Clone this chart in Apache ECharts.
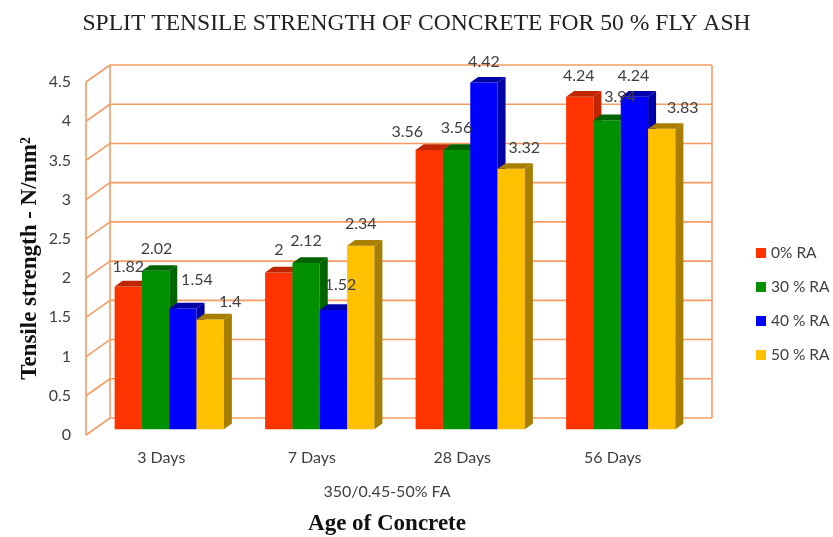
<!DOCTYPE html>
<html>
<head>
<meta charset="utf-8">
<script src="https://cdn.jsdelivr.net/npm/echarts@6/dist/echarts.min.js"></script>
<style>
  html, body { margin: 0; padding: 0; background: #fff; }
  #chart { width: 833px; height: 537px; }
</style>
</head>
<body>
<div id="chart"></div>
<script>
// data
const categories = ['3 Days', '7 Days', '28 Days', '56 Days']
const seriesNames = ['0% RA', '30 % RA', '40 % RA', '50 % RA']
const ra0 = [1.82, 2, 3.56, 4.24]
const ra30 = [2.02, 2.12, 3.56, 3.94]
const ra40 = [1.54, 1.52, 4.42, 4.24]
const ra50 = [1.4, 2.34, 3.32, 3.83]
const yTicks = [0, 0.5, 1, 1.5, 2, 2.5, 3, 3.5, 4, 4.5]

const seriesValues = [ra0, ra30, ra40, ra50]
const frontColors = ['#FF3300', '#009000', '#0000FF', '#FFC000']
const darkColors = ['#C02600', '#006400', '#0000A8', '#A87E00']

// label nudges (px) where Excel moved a label off its bar
const labelShift = [
  [[0, 1], [0, -2], [-22, 3], [-1, 0]],
  [[1, -1], [0, -1], [0, -1], [13, -2]],
  [[14, -8], [7, -4], [0, 0], [-1, 0]],
  [[20, 3], [0, -1], [13, 0], [21, 0]],
]

// 3d look: depth of the whole frame and of one bar
const DX = 24
const DY = 17
const BDX = 8
const BDY = 5.7
const gridLine = '#F59C64'
const textColor = '#404040'
const sans = 'Lato, "Open Sans", sans-serif'
const serif = '"Liberation Serif", serif'

const chart = echarts.init(document.getElementById('chart'))

function frameItem(params, api) {
  const cs = params.coordSys
  const y = api.coord([0, api.value(1)])[1]
  const style = { stroke: gridLine, lineWidth: 1.6 }
  const children = [
    { type: 'line', shape: { x1: cs.x, y1: y, x2: cs.x + DX, y2: y - DY }, style },
    { type: 'line', shape: { x1: cs.x + DX, y1: y - DY, x2: cs.x + cs.width + DX, y2: y - DY }, style },
  ]
  if (params.dataIndex === 0) {
    const top = cs.y
    const bot = cs.y + cs.height
    children.push(
      { type: 'line', shape: { x1: cs.x, y1: top, x2: cs.x, y2: bot }, style },
      { type: 'line', shape: { x1: cs.x + DX, y1: top - DY, x2: cs.x + DX, y2: bot - DY }, style },
      { type: 'line', shape: { x1: cs.x + cs.width + DX, y1: top - DY, x2: cs.x + cs.width + DX, y2: bot - DY }, style },
    )
  }
  return { type: 'group', children }
}

function barRenderer(s) {
  return function (params, api) {
    const idx = api.value(0)
    const val = api.value(1)
    const base = api.coord([idx, 0])
    const tip = api.coord([idx, val])
    const band = api.size([1, 0])[0]
    const bw = band * 0.1815
    const x = base[0] - 2 * bw + s * bw + BDX
    const yb = base[1] - BDY
    const yt = tip[1] - BDY
    const shift = labelShift[s][idx]
    return {
      type: 'group',
      children: [
        { type: 'rect', shape: { x: x, y: yt, width: bw, height: yb - yt }, style: { fill: frontColors[s] } },
        {
          type: 'polygon',
          shape: { points: [[x, yt], [x + bw, yt], [x + bw + BDX, yt - BDY], [x + BDX, yt - BDY]] },
          style: { fill: darkColors[s] },
        },
        {
          type: 'polygon',
          shape: { points: [[x + bw, yt], [x + bw + BDX, yt - BDY], [x + bw + BDX, yb - BDY], [x + bw, yb]] },
          style: { fill: darkColors[s] },
        },
        {
          type: 'text',
          z2: 100,
          x: x + bw / 2 + shift[0],
          y: yt - 21 + shift[1],
          style: {
            text: String(val),
            fill: textColor,
            font: '16px ' + sans,
            align: 'center',
            verticalAlign: 'middle',
          },
        },
      ],
    }
  }
}

const bars = seriesNames.map((name, s) => ({
  name,
  type: 'custom',
  z: 3,
  itemStyle: { color: frontColors[s] },
  renderItem: barRenderer(s),
  encode: { x: 0, y: 1 },
  data: seriesValues[s].map((v, i) => [i, v]),
}))

chart.setOption({
  animation: false,
  title: {
    text: 'SPLIT TENSILE STRENGTH OF CONCRETE FOR 50 % FLY ASH',
    left: 'center',
    top: 7,
    textStyle: { fontFamily: serif, fontSize: 23.6, fontWeight: 'normal', color: '#222' },
  },
  legend: {
    data: seriesNames,
    orient: 'vertical',
    left: 751,
    top: 240,
    icon: 'rect',
    itemWidth: 10,
    itemHeight: 10,
    itemGap: 18,
    textStyle: { fontFamily: sans, fontSize: 15.5, color: textColor },
  },
  graphic: [
    {
      type: 'text',
      x: 387,
      y: 492,
      style: {
        text: '350/0.45-50% FA',
        fill: textColor,
        font: '16px ' + sans,
        align: 'center',
        verticalAlign: 'middle',
      },
    },
  ],
  grid: { left: 86, right: 145, top: 82, bottom: 102, outerBoundsMode: 'none' },
  xAxis: {
    type: 'category',
    data: categories,
    name: 'Age of Concrete',
    nameLocation: 'middle',
    nameGap: 78,
    nameTextStyle: { fontFamily: serif, fontSize: 23, fontWeight: 'bold', color: '#111' },
    axisLine: { show: false },
    axisTick: { show: false },
    axisLabel: { margin: 15, fontFamily: sans, fontSize: 16, color: textColor },
  },
  yAxis: {
    type: 'value',
    min: 0,
    max: 4.5,
    interval: 0.5,
    name: 'Tensile strength - N/mm²',
    nameLocation: 'middle',
    nameRotate: 90,
    nameGap: 44,
    nameMoveOverlap: false,
    nameTextStyle: { fontFamily: serif, fontSize: 23, fontWeight: 'bold', color: '#111' },
    axisLine: { show: false },
    axisTick: { show: false },
    splitLine: { show: false },
    axisLabel: { margin: 15, fontFamily: sans, fontSize: 16, color: textColor },
  },
  series: [
    {
      type: 'custom',
      z: 1,
      silent: true,
      renderItem: frameItem,
      encode: { x: 0, y: 1 },
      data: yTicks.map((t) => [0, t]),
    },
    ...bars,
  ],
})
</script>
</body>
</html>
